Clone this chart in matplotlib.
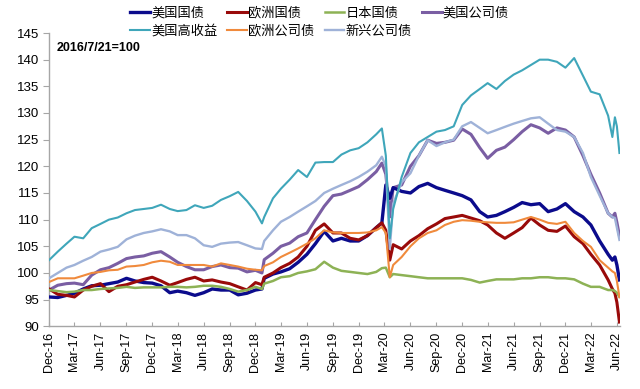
import matplotlib
matplotlib.use("Agg")
import matplotlib.pyplot as plt
import matplotlib.dates as mdates
import pandas as pd

plt.rcParams['font.family'] = ['Liberation Sans', 'Noto Sans CJK SC', 'DejaVu Sans']

# ---- dates (x values) ----
dates = (list(pd.date_range('2016-12-01', '2018-12-01', freq='MS'))
         + [pd.Timestamp('2018-12-24')]
         + list(pd.date_range('2019-01-01', '2020-02-01', freq='MS'))
         + [pd.Timestamp(d) for d in ['2020-02-21', '2020-03-06', '2020-03-20']]
         + list(pd.date_range('2020-04-01', '2022-05-01', freq='MS'))
         + [pd.Timestamp(d) for d in ['2022-05-16', '2022-05-25', '2022-06-01', '2022-06-10']])

# ---- series values (index, 2016/7/21 = 100) ----
us_treasury = [95.5, 95.4, 95.8, 96.2, 97.0, 97.6, 97.7, 98.0, 98.3, 99.0, 98.5, 98.2, 98.1,
               97.6, 96.3, 96.6, 96.3, 95.8, 96.3, 97.0, 96.8, 96.8, 95.9, 96.2, 96.8,
               97.0,
               99.0, 99.8, 100.2, 100.8, 102.0, 103.5, 105.5, 107.8, 106.0, 106.5, 106.0, 106.0, 107.0, 108.5,
               109.4, 116.5, 114.0,
               116.0, 115.3, 115.0, 116.2, 116.8, 116.0, 115.5, 115.0, 114.5, 113.7, 111.5, 110.5, 110.8,
               111.5, 112.3, 113.2, 112.8, 113.0, 111.5, 112.0, 113.0, 111.5, 110.5, 109.0, 106.0, 103.5,
               102.4, 103.0, 101.5, 98.7]
eu_treasury = [97.0, 96.0, 95.8, 95.5, 96.8, 97.5, 98.0, 96.5, 97.5, 97.8, 98.3, 98.8, 99.2,
               98.5, 97.7, 98.2, 98.8, 99.2, 98.5, 98.7, 98.3, 98.0, 97.4, 96.8, 98.2,
               97.8,
               99.2, 100.0, 101.0, 101.8, 103.0, 105.0, 108.0, 109.2, 107.5, 107.5, 106.5, 106.2, 107.0, 108.5,
               109.4, 108.0, 102.4,
               105.3, 104.5, 106.0, 107.0, 108.3, 109.2, 110.2, 110.5, 110.8, 110.3, 109.8, 109.0, 107.5,
               106.5, 107.5, 108.5, 110.3, 109.0, 108.0, 107.8, 108.8, 106.8, 105.5, 103.5, 101.5, 98.7,
               97.0, 96.2, 94.5, 90.8]
jp_treasury = [96.8, 96.6, 96.4, 96.5, 96.8, 96.8, 97.0, 97.1, 97.2, 97.4, 97.2, 97.3, 97.3,
               97.3, 97.4, 97.4, 97.3, 97.4, 97.6, 97.6, 97.4, 97.0, 96.5, 96.8, 97.4,
               97.0,
               98.0, 98.5, 99.2, 99.4, 100.0, 100.3, 100.7, 102.1, 101.0, 100.4, 100.2, 100.0, 99.8, 100.2,
               100.9, 101.0, 99.2,
               99.8, 99.6, 99.4, 99.2, 99.0, 99.0, 99.0, 99.0, 99.0, 98.7, 98.2, 98.5, 98.8,
               98.8, 98.8, 99.0, 99.0, 99.2, 99.2, 99.0, 99.0, 98.8, 98.0, 97.4, 97.4, 96.8,
               96.8, 96.6, 96.3, 95.5]
us_corp = [96.8, 97.7, 98.0, 98.1, 97.8, 99.6, 100.6, 101.0, 101.8, 102.7, 103.0, 103.2, 103.7,
           104.0, 103.0, 102.0, 101.2, 100.6, 100.6, 101.2, 101.5, 101.0, 100.9, 100.2, 100.5,
           100.0,
           102.5, 103.7, 105.0, 105.6, 106.8, 107.5, 110.0, 112.5, 114.5, 114.8, 115.5, 116.2, 117.5, 119.0,
           120.6, 118.5, 110.5,
           116.0, 116.5, 120.0, 122.0, 124.9, 124.3, 124.5, 124.9, 127.0, 126.0, 123.5, 121.5, 123.0,
           123.6, 125.0, 126.5, 127.8, 127.2, 126.2, 127.2, 126.8, 125.5, 122.0, 118.5, 115.0, 111.2,
           110.5, 111.2, 109.5, 107.0]
us_hy = [102.4, 104.0, 105.5, 106.8, 106.5, 108.4, 109.2, 110.0, 110.4, 111.2, 111.8, 112.0, 112.2,
         112.8, 112.0, 111.6, 111.8, 112.7, 112.2, 112.6, 113.7, 114.4, 115.2, 113.5, 111.5,
         109.3,
         110.5, 114.0, 115.8, 117.5, 119.3, 118.0, 120.7, 120.8, 120.8, 122.2, 123.0, 123.4, 124.5, 126.0,
         127.1, 122.0, 106.5,
         112.0, 118.0, 122.5, 124.5, 125.5, 126.5, 126.8, 127.5, 131.5, 133.3, 134.5, 135.6, 134.5,
         136.0, 137.2, 138.0, 139.0, 140.0, 140.0, 139.6, 138.5, 140.3, 137.0, 134.0, 133.5, 129.5,
         125.5, 129.2, 127.5, 122.5]
eu_corp = [98.3, 99.0, 99.0, 99.0, 99.5, 100.0, 100.2, 100.5, 100.6, 101.2, 101.3, 101.5, 102.0,
           102.3, 102.1, 101.5, 101.5, 101.5, 101.5, 101.2, 101.8, 101.5, 101.2, 100.8, 100.6,
           100.5,
           101.3, 102.0, 103.0, 103.8, 104.6, 105.5, 106.5, 108.0, 107.6, 107.5, 107.5, 107.5, 107.6, 108.0,
           108.6, 107.5, 99.2,
           101.5, 103.0, 105.0, 106.5, 107.5, 108.0, 109.0, 109.6, 109.9, 109.8, 109.6, 109.5, 109.4,
           109.4, 109.5, 110.0, 110.5, 110.0, 109.4, 109.2, 109.6, 107.5, 106.0, 104.9, 102.4, 101.0,
           100.3, 100.0, 98.5, 95.5]
em_corp = [99.0, 100.0, 101.0, 101.5, 102.3, 103.0, 104.0, 104.4, 104.9, 106.3, 107.0, 107.5, 107.8,
           108.2, 107.8, 107.1, 107.1, 106.5, 105.2, 104.9, 105.5, 105.7, 105.8, 105.2, 104.6,
           104.5,
           106.0, 108.0, 109.6, 110.5, 111.5, 112.5, 113.5, 115.0, 115.8, 116.5, 117.2, 118.0, 119.0, 120.2,
           121.8, 120.0, 104.5,
           113.0, 117.0, 118.7, 122.0, 124.9, 123.8, 124.5, 125.0, 127.5, 128.3, 127.2, 126.2, 126.8,
           127.4, 128.0, 128.5, 129.0, 129.2, 128.0, 126.8, 126.5, 125.5, 122.5, 118.0, 114.5, 111.2,
           110.5, 110.3, 108.5, 106.2]

labels = ['美国国债', '欧洲国债', '日本国债', '美国公司债', '美国高收益', '欧洲公司债', '新兴公司债']
series = [us_treasury, eu_treasury, jp_treasury, us_corp, us_hy, eu_corp, em_corp]
colors = ['#0b0b8c', '#990a0a', '#8db255', '#7a5ea3', '#3fa6ba', '#f08a3c', '#9fb2d8']
widths = [2.4, 2.2, 1.8, 2.2, 1.5, 1.5, 1.7]
zorders = [3, 3, 4, 2, 5, 4, 3]

fig = plt.figure(figsize=(6.4, 3.89), dpi=100)
ax = fig.add_axes([49 / 640, 1 - 326.3 / 389, (620 - 49) / 640, (326.3 - 33) / 389])

handles = {}
for lab, s, c, w, z in zip(labels, series, colors, widths, zorders):
    h, = ax.plot(dates, s, color=c, lw=w, label=lab, zorder=z, solid_joinstyle='round')
    handles[lab] = h

ax.set_xlim(pd.Timestamp('2016-12-01'), pd.Timestamp('2022-06-12'))
ax.set_ylim(90, 145)
ax.set_yticks(range(90, 146, 5))
ax.xaxis.set_major_locator(mdates.MonthLocator(bymonth=[3, 6, 9, 12], bymonthday=1))
ax.xaxis.set_major_formatter(mdates.DateFormatter('%b-%y'))
for lbl in ax.get_xticklabels():
    lbl.set_rotation(90)

for sp in ['top', 'right']:
    ax.spines[sp].set_visible(False)
for sp in ['left', 'bottom']:
    ax.spines[sp].set_color('#a6a6a6')
    ax.spines[sp].set_linewidth(1.0)
ax.tick_params(axis='y', direction='out', length=4, color='#a6a6a6', labelsize=9.5, pad=3)
ax.tick_params(axis='x', direction='in', length=3, color='#a6a6a6', labelsize=9, pad=4)

ax.text(0.014, 0.949, '2016/7/21=100', transform=ax.transAxes, fontsize=9,
        fontweight='bold', va='center', ha='left')

order = ['美国国债', '美国高收益', '欧洲国债', '欧洲公司债', '日本国债', '新兴公司债', '美国公司债']
fig.legend([handles[o] for o in order], order, ncol=4, loc='center left',
           bbox_to_anchor=(130 / 640, 1 - 22.5 / 389), frameon=False, fontsize=9.5,
           handlelength=1.5, handletextpad=0.1, columnspacing=0.75, labelspacing=0.42,
           borderaxespad=0, borderpad=0)

fig.savefig('out.png', dpi=100)
